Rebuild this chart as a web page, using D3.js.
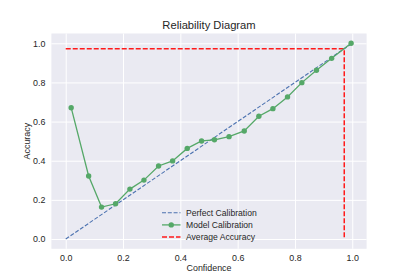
<!DOCTYPE html>
<html>
<head>
<meta charset="utf-8">
<script src="https://cdn.jsdelivr.net/npm/d3@7"></script>
<style>
  body { margin: 0; background: #fff; }
  text { font-family: "Liberation Sans", Arial, sans-serif; fill: #262626; }
</style>
</head>
<body>
<div id="chart"></div>
<script>
// Reliability diagram data
const confidence = [0.019, 0.080, 0.125, 0.174, 0.224, 0.273, 0.324, 0.373, 0.424, 0.474,
                    0.519, 0.570, 0.623, 0.674, 0.723, 0.774, 0.824, 0.875, 0.928, 0.996];
const accuracy = [0.671, 0.322, 0.163, 0.180, 0.255, 0.301, 0.373, 0.399, 0.463, 0.501,
                  0.507, 0.523, 0.552, 0.627, 0.666, 0.726, 0.799, 0.862, 0.923, 1.0];
const perfect = [0, 1];
const averageAccuracy = 0.972;
const tickValues = [0, 0.2, 0.4, 0.6, 0.8, 1.0];
const legendLabels = ["Perfect Calibration", "Model Calibration", "Average Accuracy"];

const width = 407, height = 280;
const margin = { left: 51.4, right: 40.4, top: 33.5, bottom: 31.2 };

const svg = d3.select("#chart").append("svg")
    .attr("width", width)
    .attr("height", height);

// scales with matplotlib-like 5% padding
const x = d3.scaleLinear().domain([-0.05, 1.05]).range([margin.left, width - margin.right]);
const y = d3.scaleLinear().domain([-0.05, 1.05]).range([height - margin.bottom, margin.top]);

// plot background
svg.append("rect")
    .attr("x", x(-0.05)).attr("y", y(1.05))
    .attr("width", x(1.05) - x(-0.05))
    .attr("height", y(-0.05) - y(1.05))
    .attr("fill", "#eaeaf2");

// grid + tick labels via axes
const xAxis = svg.append("g")
    .attr("transform", `translate(0,${y(-0.05)})`)
    .call(d3.axisBottom(x).tickValues(tickValues).tickFormat(d3.format(".1f"))
        .tickSize(-(y(-0.05) - y(1.05))).tickPadding(6));
const yAxis = svg.append("g")
    .attr("transform", `translate(${x(-0.05)},0)`)
    .call(d3.axisLeft(y).tickValues(tickValues).tickFormat(d3.format(".1f"))
        .tickSize(-(x(1.05) - x(-0.05))).tickPadding(6));

[xAxis, yAxis].forEach(a => {
    a.select(".domain").remove();
    a.selectAll(".tick line").attr("stroke", "#fff").attr("stroke-width", 1);
    a.selectAll(".tick text")
        .attr("font-size", 8.9)
        .attr("fill", "#262626")
        .style("font-family", "'Liberation Sans', Arial, sans-serif");
});

// perfect calibration (blue dashed)
const line = d3.line().x(d => x(d[0])).y(d => y(d[1]));
svg.append("path")
    .datum(perfect.map(v => [v, v]))
    .attr("d", line)
    .attr("fill", "none")
    .attr("stroke", "#4c72b0")
    .attr("stroke-width", 1.1)
    .attr("stroke-dasharray", "4,1.8");

// average accuracy (red dashed)
svg.append("path")
    .datum([[0, averageAccuracy], [averageAccuracy, averageAccuracy], [averageAccuracy, 0]])
    .attr("d", line)
    .attr("fill", "none")
    .attr("stroke", "#ff1a1a")
    .attr("stroke-width", 1.5)
    .attr("stroke-dasharray", "5,2");

// model calibration (green)
const pts = confidence.map((c, i) => [c, accuracy[i]]);
svg.append("path")
    .datum(pts)
    .attr("d", line)
    .attr("fill", "none")
    .attr("stroke", "#55a868")
    .attr("stroke-width", 1.3);
svg.selectAll("circle.pt")
    .data(pts)
    .join("circle")
    .attr("class", "pt")
    .attr("cx", d => x(d[0]))
    .attr("cy", d => y(d[1]))
    .attr("r", 2.7)
    .attr("fill", "#55a868");

// title and axis labels
svg.append("text")
    .attr("x", (x(-0.05) + x(1.05)) / 2)
    .attr("y", 29)
    .attr("text-anchor", "middle")
    .attr("font-size", 11.2)
    .text("Reliability Diagram");

svg.append("text")
    .attr("x", (x(-0.05) + x(1.05)) / 2)
    .attr("y", 271)
    .attr("text-anchor", "middle")
    .attr("font-size", 8.9)
    .text("Confidence");

svg.append("text")
    .attr("transform", `translate(30,${(y(-0.05) + y(1.05)) / 2}) rotate(-90)`)
    .attr("text-anchor", "middle")
    .attr("font-size", 8.9)
    .text("Accuracy");

// legend
const legend = svg.append("g").attr("transform", "translate(162,212.7)");
legendLabels.forEach((lab, i) => {
    const g = legend.append("g").attr("transform", `translate(0,${i * 12.2})`);
    if (i === 0) {
        g.append("line").attr("x1", 0).attr("x2", 18.5).attr("y1", 0).attr("y2", 0)
            .attr("stroke", "#4c72b0").attr("stroke-width", 1.1).attr("stroke-dasharray", "4,1.8");
    } else if (i === 1) {
        g.append("line").attr("x1", 0).attr("x2", 18.5).attr("y1", 0).attr("y2", 0)
            .attr("stroke", "#55a868").attr("stroke-width", 1.3);
        g.append("circle").attr("cx", 9.25).attr("cy", 0).attr("r", 2.7).attr("fill", "#55a868");
    } else {
        g.append("line").attr("x1", 0).attr("x2", 18.5).attr("y1", 0).attr("y2", 0)
            .attr("stroke", "#ff1a1a").attr("stroke-width", 1.5).attr("stroke-dasharray", "5,2");
    }
    g.append("text")
        .attr("x", 24)
        .attr("y", 3.2)
        .attr("font-size", 8.6)
        .text(lab);
});
</script>
</body>
</html>
